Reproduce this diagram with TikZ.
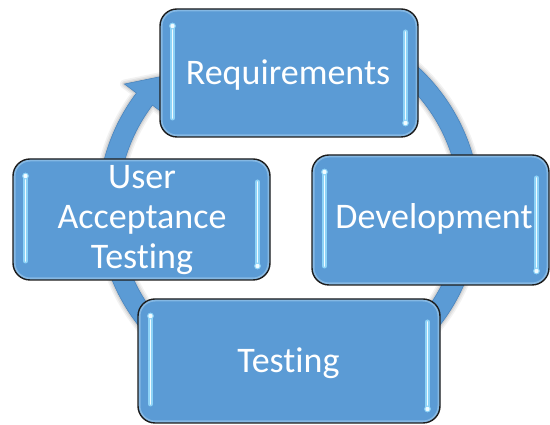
\documentclass[tikz,border=0pt]{standalone}
\usepackage{fontspec}
\setmainfont{Carlito}[Ligatures=NoCommon]
\usetikzlibrary{calc}
\definecolor{boxblue}{HTML}{5B9BD5}
\definecolor{ringblue}{HTML}{5B9BD5}
\definecolor{ringedge}{HTML}{4A86C0}
\definecolor{rimblue}{HTML}{A8D0F0}
\definecolor{glow}{HTML}{8ED3F7}
\definecolor{shine}{HTML}{F2FCFF}
\definecolor{edgedark}{HTML}{1C1C1C}
\newcommand\glossline[2]{%
  \draw[glow, line width=5pt, line cap=round] #1 -- #2;
  \draw[shine, line width=1.9pt, line cap=round] #1 -- #2;}
\newcommand\glossdot[1]{%
  \fill[glow] #1 circle (3.4pt);
  \fill[shine] #1 circle (2.2pt);}
\newcommand\boxgloss{%
  \draw[rimblue, line width=5pt, opacity=0.55, rounded corners=17pt]
    (path picture bounding box.south west) rectangle (path picture bounding box.north east);
  \glossline{($(path picture bounding box.north west)+(12.5,-17)$)}{($(path picture bounding box.south west)+(12.5,19)$)}
  \glossdot{($(path picture bounding box.north west)+(12.5,-17)$)}
  \glossline{($(path picture bounding box.north east)+(-12.5,-23)$)}{($(path picture bounding box.south east)+(-12.5,14)$)}
  \glossdot{($(path picture bounding box.south east)+(-12.5,14)$)}
}
\newcommand\ringpath{($(c)+(125:191)$) arc[start angle=125,end angle=-217,radius=191]
  -- ($(c)+(-217:206)$) -- ($(c)+(-227:181)$) -- ($(c)+(-217:156)$)
  -- ($(c)+(-217:171)$) arc[start angle=-217,end angle=125,radius=171] -- cycle}
\tikzset{
  stagebox/.style={rounded corners=17pt, fill=boxblue, draw=edgedark, line width=1.4pt,
    inner sep=0pt, path picture={\boxgloss}},
  stagetext/.style={text=white, font=\fontsize{36}{40}\selectfont, align=center, inner sep=0pt},
  ring/.style={fill=ringblue, draw=ringedge, line width=0.6pt},
  ringshade/.style={draw=black, line join=round, opacity=#1},
}
\begin{document}
\begin{tikzpicture}[x=1pt,y=1pt]
\useasboundingbox (0,0) rectangle (550,425);
\fill[white] (0,0) rectangle (550,425);
\coordinate (c) at (289,217);
% soft shadow of the circular arrow
\begin{scope}[shift={(-4,-3)}]
  \path[ringshade=0.05, line width=9pt] \ringpath;
  \path[ringshade=0.06, line width=6pt] \ringpath;
  \path[ringshade=0.08, line width=3pt] \ringpath;
  \path[fill=black, opacity=0.15] \ringpath;
\end{scope}
% circular arrow (clockwise)
\path[ring] \ringpath;
% stages
\node[stagebox, minimum width=258pt, minimum height=128pt] (req) at (289,352) {};
\node[stagetext, anchor=base] (reqt) at (288,340.7) {Requirements};
\node[stagebox, minimum width=237pt, minimum height=130pt] (dev) at (430.5,205) {};
\node[stagetext, anchor=base] (devt) at (434,196) {Development};
\node[stagebox, minimum width=302pt, minimum height=124pt] (test) at (289,64) {};
\node[stagetext, anchor=base] (testt) at (288.5,52) {Testing};
\node[stagebox, minimum width=257pt, minimum height=121pt] (uat) at (141.5,205.5) {};
\node[stagetext] (uatt) at (142,205) {User\\Acceptance\\Testing};
\end{tikzpicture}
\end{document}
